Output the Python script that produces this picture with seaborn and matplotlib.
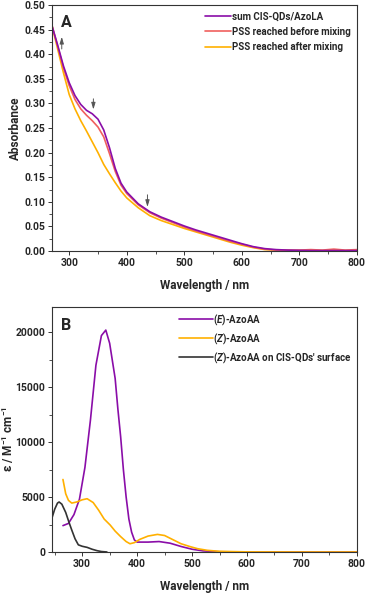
import numpy as np
import pandas as pd
import matplotlib
matplotlib.use("Agg")
import matplotlib.pyplot as plt
import seaborn as sns
from matplotlib.ticker import MultipleLocator, FormatStrFormatter
from matplotlib.lines import Line2D

# ---------------- Panel A data ----------------
wl_a = [270, 280, 290, 300, 310, 320, 330, 340, 350, 360, 370, 380, 390, 400, 420, 440,
        460, 480, 500, 520, 540, 560, 580, 600, 620, 640, 660, 680, 700, 720, 740, 760, 780, 800]
abs_sum = [0.458, 0.418, 0.376, 0.342, 0.316, 0.298, 0.286, 0.279, 0.268, 0.246, 0.210, 0.168, 0.138, 0.120,
           0.096, 0.080, 0.069, 0.060, 0.051, 0.043, 0.036, 0.029, 0.022, 0.015, 0.009, 0.005, 0.003, 0.002,
           0.0015, 0.001, 0.001, 0.001, 0.001, 0.001]
abs_before = [0.458, 0.416, 0.372, 0.336, 0.308, 0.289, 0.276, 0.265, 0.252, 0.232, 0.198, 0.162, 0.134, 0.117,
              0.094, 0.078, 0.067, 0.058, 0.049, 0.041, 0.034, 0.027, 0.020, 0.014, 0.008, 0.004, 0.002, 0.002,
              0.002, 0.003, 0.002, 0.004, 0.002, 0.003]
abs_after = [0.458, 0.410, 0.362, 0.318, 0.289, 0.265, 0.244, 0.222, 0.200, 0.176, 0.157, 0.139, 0.122, 0.108,
             0.088, 0.072, 0.062, 0.054, 0.046, 0.039, 0.032, 0.025, 0.018, 0.012, 0.007, 0.003, 0.002, 0.001,
             0.001, 0.001, 0.001, 0.001, 0.001, 0.001]
labels_a = ["sum CIS-QDs/AzoLA", "PSS reached before mixing", "PSS reached after mixing"]

# ---------------- Panel B data ----------------
wl_e = [265, 275, 285, 295, 305, 315, 325, 335, 343, 350, 360, 365, 370, 375, 380, 385, 390, 395, 400,
        420, 440, 460, 480, 500, 520, 550, 600, 700, 800]
eps_e = [2400, 2600, 3400, 4800, 7700, 12000, 17000, 19700, 20200, 19000, 15800, 13000, 10500, 7500, 5000,
         3000, 1800, 1100, 900, 900, 950, 800, 500, 250, 100, 20, 0, 0, 0]
wl_z = [265, 270, 275, 281, 290, 300, 309, 320, 330, 340, 351, 360, 370, 380, 387, 395, 405, 420, 437, 450,
        466, 480, 497, 510, 528, 550, 600, 700, 800]
eps_z = [6600, 5300, 4700, 4450, 4550, 4750, 4850, 4500, 3800, 3000, 2450, 1900, 1400, 950, 750, 850, 1150,
         1450, 1600, 1500, 1100, 750, 480, 300, 150, 60, 10, 0, 0]
wl_q = [245, 250, 255, 258, 263, 270, 276, 281, 287, 293, 300, 309, 318, 327, 335, 345]
eps_q = [3100, 3900, 4450, 4550, 4350, 3600, 2700, 2000, 1200, 650, 520, 420, 250, 120, 40, 0]
labels_b = [r"($\it{E}$)-AzoAA", r"($\it{Z}$)-AzoAA", r"($\it{Z}$)-AzoAA on CIS-QDs' surface"]

FONT = "Roboto"
sns.set_style("ticks")
plt.rcParams["font.family"] = [FONT, "DejaVu Sans"]
plt.rcParams["font.weight"] = "bold"
plt.rcParams["axes.labelweight"] = "bold"
plt.rcParams["mathtext.fontset"] = "custom"
plt.rcParams["mathtext.rm"] = FONT + ":bold"
plt.rcParams["mathtext.it"] = FONT + ":italic:bold"
plt.rcParams["mathtext.bf"] = FONT + ":bold"

purple = "#8A0DA8"
red = "#F0605D"
orange = "#FFB000"
dark = "#333333"

fig = plt.figure(figsize=(3.66, 5.95), dpi=100)
axA = fig.add_axes([0.142, 0.578, 0.833, 0.4136])
axB = fig.add_axes([0.142, 0.0723, 0.833, 0.4117])

dfA = pd.concat([
    pd.DataFrame({"wl": wl_a, "val": abs_sum, "s": labels_a[0]}),
    pd.DataFrame({"wl": wl_a, "val": abs_before, "s": labels_a[1]}),
    pd.DataFrame({"wl": wl_a, "val": abs_after, "s": labels_a[2]}),
])
sns.lineplot(data=dfA, x="wl", y="val", hue="s", hue_order=labels_a[::-1],
             palette={labels_a[0]: purple, labels_a[1]: red, labels_a[2]: orange},
             ax=axA, linewidth=1.2, legend=False)
hA = [Line2D([], [], color=c, lw=1.2) for c in (purple, red, orange)]
axA.legend(hA, labels_a, loc="upper right", frameon=False, fontsize=7,
           handlelength=2.7, handletextpad=0.1, labelspacing=0.55,
           bbox_to_anchor=(1.0, 1.0), borderaxespad=0.25)

axA.set_xlim(270, 800)
axA.set_ylim(0, 0.5)
axA.xaxis.set_major_locator(MultipleLocator(100))
axA.xaxis.set_minor_locator(MultipleLocator(50))
axA.yaxis.set_major_locator(MultipleLocator(0.05))
axA.yaxis.set_minor_locator(MultipleLocator(0.025))
axA.yaxis.set_major_formatter(FormatStrFormatter("%.2f"))
axA.set_xlabel("Wavelength / nm", fontsize=8.5, fontweight="bold", labelpad=8)
axA.set_ylabel("Absorbance", fontsize=8.5, fontweight="bold")
axA.yaxis.set_label_coords(-0.10, 0.5)
axA.text(0.03, 0.96, "A", transform=axA.transAxes, fontsize=11.5, fontweight="bold", va="top")

arrow_kw = dict(arrowstyle="-|>,head_length=0.4,head_width=0.12", color="#555555", lw=0.7)
axA.annotate("", xy=(287, 0.441), xytext=(287, 0.405), arrowprops=arrow_kw)
axA.annotate("", xy=(342, 0.282), xytext=(342, 0.315), arrowprops=arrow_kw)
axA.annotate("", xy=(436, 0.084), xytext=(436, 0.12), arrowprops=arrow_kw)

dfB = pd.concat([
    pd.DataFrame({"wl": wl_e, "val": eps_e, "s": labels_b[0]}),
    pd.DataFrame({"wl": wl_z, "val": eps_z, "s": labels_b[1]}),
    pd.DataFrame({"wl": wl_q, "val": eps_q, "s": labels_b[2]}),
])
sns.lineplot(data=dfB, x="wl", y="val", hue="s", hue_order=labels_b,
             palette={labels_b[0]: purple, labels_b[1]: orange, labels_b[2]: dark},
             ax=axB, linewidth=1.2, legend=False)
hB = [Line2D([], [], color=c, lw=1.2) for c in (purple, orange, dark)]
axB.legend(hB, labels_b, loc="upper right", frameon=False, fontsize=7,
           handlelength=3.5, handletextpad=0.05, labelspacing=0.38,
           bbox_to_anchor=(1.0, 1.0), borderaxespad=0.15)
axB.set_xlim(245, 800)
axB.set_ylim(0, 22300)
axB.xaxis.set_major_locator(MultipleLocator(100))
axB.xaxis.set_minor_locator(MultipleLocator(50))
axB.yaxis.set_major_locator(MultipleLocator(5000))
axB.yaxis.set_minor_locator(MultipleLocator(2500))
axB.set_xlabel("Wavelength / nm", fontsize=8.5, fontweight="bold", labelpad=8)
axB.set_ylabel(r"ε / M$^{-1}$ cm$^{-1}$", fontsize=8.5, fontweight="bold")
axB.yaxis.set_label_coords(-0.118, 0.46)
axB.text(0.03, 0.955, "B", transform=axB.transAxes, fontsize=11.5, fontweight="bold", va="top")

for ax in (axA, axB):
    for sp in ax.spines.values():
        sp.set_color("#333333")
        sp.set_linewidth(0.8)
    ax.tick_params(axis="both", which="major", labelsize=7.5, length=3, width=0.7, color="#333333", pad=2)
    ax.tick_params(axis="both", which="minor", length=2, width=0.6, color="#333333")
    for lbl in ax.get_xticklabels() + ax.get_yticklabels():
        lbl.set_fontweight("bold")

fig.savefig("out.png", dpi=100)
